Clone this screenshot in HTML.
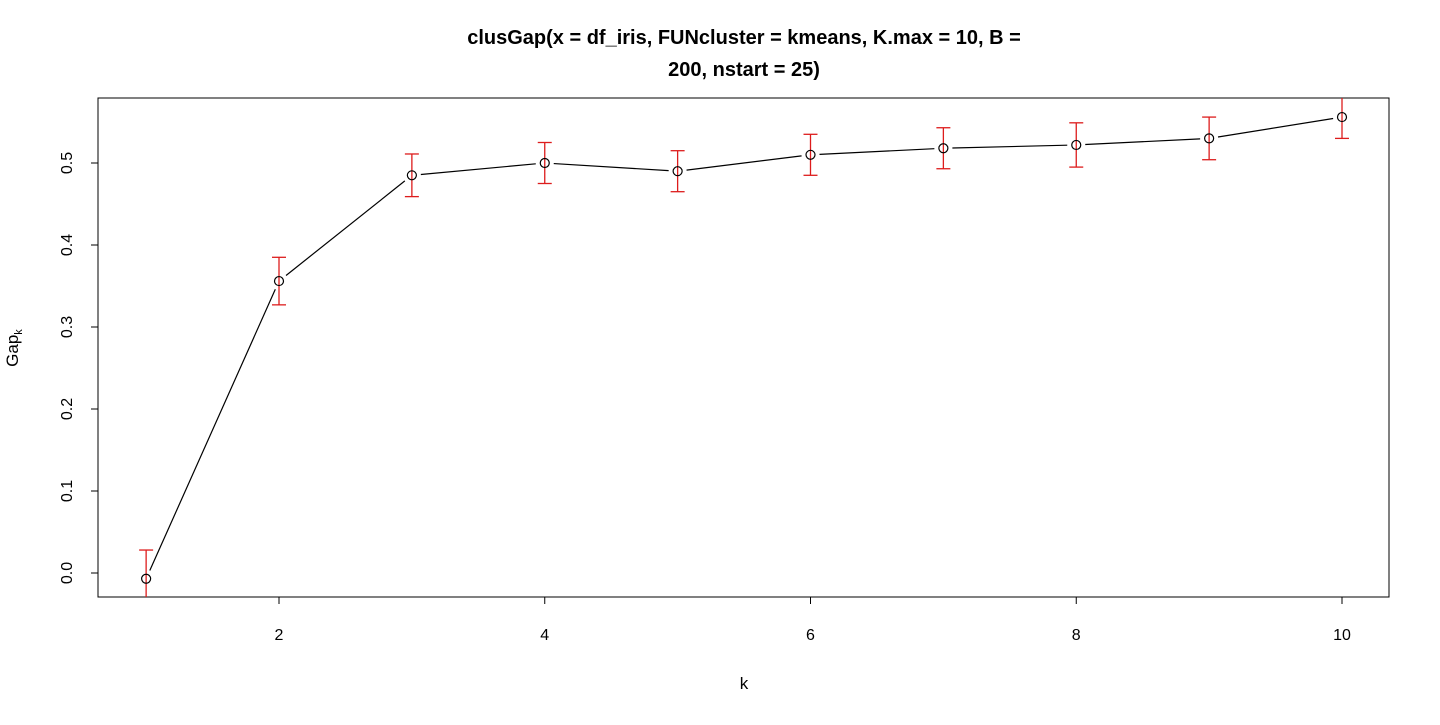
<!DOCTYPE html>
<html><head><meta charset="utf-8"><style>
body{margin:0;background:#fff}
svg text{font-family:"Liberation Sans",Arial,sans-serif}
</style></head><body>
<svg id="chart" width="1440" height="720" xmlns="http://www.w3.org/2000/svg">
<defs><clipPath id="clip"><rect x="98" y="98" width="1291" height="499"/></clipPath></defs>
<text x="744" y="44" text-anchor="middle" font-size="20" font-weight="bold">clusGap(x = df_iris, FUNcluster = kmeans, K.max = 10, B =</text>
<text x="744" y="76" text-anchor="middle" font-size="20" font-weight="bold">200, nstart = 25)</text>
<rect x="98" y="98" width="1291" height="499" fill="none" stroke="#000" stroke-width="1"/>
<text x="744" y="689" text-anchor="middle" font-size="17">k</text>
<text transform="translate(18,348) rotate(-90)" text-anchor="middle" font-size="17">Gap<tspan font-size="11" dy="4">k</tspan></text>
<g id="axes"></g>
<g id="bars" clip-path="url(#clip)"></g>
<g id="marks"></g>
</svg>
<script>
const ks=[1,2,3,4,5,6,7,8,9,10];
const gap=[-0.007,0.356,0.485,0.500,0.490,0.510,0.518,0.522,0.530,0.556];
const se=[0.035,0.029,0.026,0.025,0.025,0.025,0.025,0.027,0.026,0.026];
const xTicks=[2,4,6,8,10];
const yTicks=[0.0,0.1,0.2,0.3,0.4,0.5];
const yTickLabels=["0.0","0.1","0.2","0.3","0.4","0.5"];
const NS="http://www.w3.org/2000/svg";
const xs=k=>279+(k-2)*132.875;
const ys=v=>573-v*820;
function mk(t,a,p){const e=document.createElementNS(NS,t);for(const k in a)e.setAttribute(k,a[k]);p.appendChild(e);return e;}
const ax=document.getElementById('axes'),bars=document.getElementById('bars'),marks=document.getElementById('marks');
mk('line',{x1:xs(2),x2:xs(10),y1:597,y2:597,stroke:'#000'},ax);
xTicks.forEach(t=>{
 const l=mk('line',{x1:xs(t),x2:xs(t),y1:597,y2:604,stroke:'#000'},ax);
 
 
 const tx=mk('text',{x:xs(t),y:640,'text-anchor':'middle','font-size':16},ax);tx.textContent=t;
 
 
});
yTicks.forEach((t,i)=>{
 const l=mk('line',{x1:91,x2:98,y1:ys(t),y2:ys(t),stroke:'#000'},ax);
 
 
 const tx=mk('text',{transform:`translate(72,${ys(t)}) rotate(-90)`,'text-anchor':'middle','font-size':16},ax);tx.textContent=yTickLabels[i];
 
 
});
mk('line',{x1:98,x2:98,y1:ys(0),y2:ys(0.5),stroke:'#000'},ax);
const lineG=mk('g',{stroke:'#000','stroke-width':1.2},marks);


for(let i=0;i<ks.length-1;i++){
 const x1=xs(ks[i]),y1=ys(gap[i]),x2=xs(ks[i+1]),y2=ys(gap[i+1]);
 const d=Math.hypot(x2-x1,y2-y1),g=9,ux=(x2-x1)/d,uy=(y2-y1)/d;
 if(d>2*g) mk('line',{x1:x1+ux*g,y1:y1+uy*g,x2:x2-ux*g,y2:y2-uy*g},lineG);
}
ks.forEach((k,i)=>{
 const x=xs(k),t=ys(gap[i]+se[i]),b=ys(gap[i]-se[i]);
 const g=mk('g',{stroke:'#dd1c1c','stroke-width':1.3},bars);
 
 
 mk('line',{x1:x,x2:x,y1:t,y2:b},g);
 mk('line',{x1:x-7,x2:x+7,y1:t,y2:t},g);
 mk('line',{x1:x-7,x2:x+7,y1:b,y2:b},g);
 const c=mk('circle',{cx:x,cy:ys(gap[i]),r:4.5,fill:'none',stroke:'#000','stroke-width':1.2},marks);
 
 
});
</script>
</body></html>
